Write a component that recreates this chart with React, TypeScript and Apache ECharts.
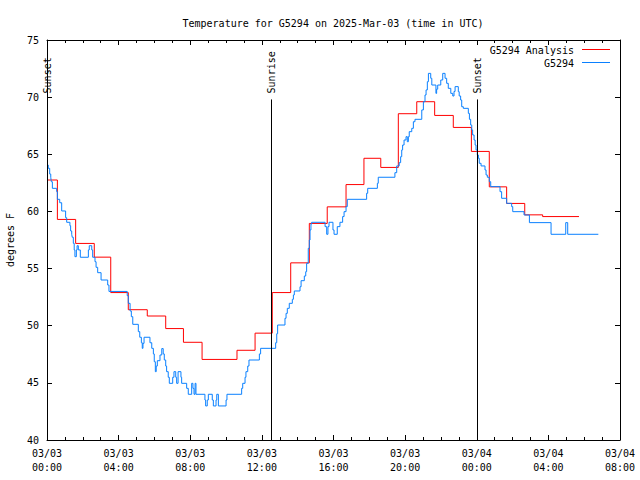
import React, { useEffect, useRef } from "react";
import * as echarts from "echarts";

// Hours since 03/03 00:00 UTC
const xTickLabels = [
  "03/03\n00:00", "03/03\n04:00", "03/03\n08:00", "03/03\n12:00", "03/03\n16:00",
  "03/03\n20:00", "03/04\n00:00", "03/04\n04:00", "03/04\n08:00",
];

const analysisHours = [0, 0.58, 1.6, 2.64, 3.56, 4.54, 5.6, 6.63, 7.62, 8.66, 10.61, 11.62, 12.58, 13.61, 14.65, 15.65, 16.7, 17.7, 18.64, 19.62, 20.65, 21.65, 22.69, 23.7, 24.7, 25.67, 26.68, 27.68, 29.71];
const analysisTemps = [62.75, 59.3, 57.2, 56.0, 52.9, 51.4, 50.85, 49.75, 48.55, 47.05, 47.85, 49.35, 52.9, 55.5, 58.95, 60.4, 62.35, 64.65, 63.85, 68.55, 69.6, 68.4, 67.35, 65.25, 62.15, 60.7, 59.7, 59.55, 59.55];

const obsHours = [0, 0.07, 0.15, 0.21, 0.24, 0.3, 0.54, 0.58, 0.71, 0.82,
  1.04, 1.1, 1.28, 1.32, 1.38, 1.41, 1.47, 1.52, 1.56, 1.64,
  1.68, 1.75, 1.86, 2.31, 2.36, 2.5, 2.55, 2.68, 2.74, 2.83,
  3.02, 3.39, 3.46, 4.48, 4.54, 4.64, 4.71, 4.79, 5.1, 5.18,
  5.27, 5.32, 5.36, 5.42, 5.75, 5.85, 5.94, 5.99, 6.05, 6.1,
  6.16, 6.31, 6.41, 6.49, 6.55, 6.63, 6.68, 6.77, 6.83, 7.02,
  7.09, 7.19, 7.24, 7.32, 7.48, 7.52, 7.8, 7.89, 8.08, 8.15,
  8.21, 8.27, 8.32, 8.82, 8.86, 8.95, 9.01, 9.23, 9.29, 9.44,
  9.48, 9.57, 10.0, 10.05, 10.87, 10.93, 11.06, 11.11, 11.21, 11.28,
  11.86, 11.93, 12.77, 12.83, 12.88, 13.29, 13.35, 13.42, 13.53, 13.7,
  13.76, 13.81, 14.13, 14.19, 14.37, 14.45, 14.5, 14.59, 14.65, 14.69,
  14.74, 14.78, 15.53, 15.62, 15.69, 15.75, 15.97, 16.03, 16.21, 16.36,
  16.51, 16.59, 16.7, 16.77, 17.85, 17.91, 18.45, 18.5, 19.43, 19.53,
  19.67, 19.75, 19.81, 19.86, 19.94, 20.05, 20.12, 20.18, 20.23, 20.37,
  20.46, 20.55, 20.93, 21.02, 21.11, 21.17, 21.24, 21.3, 21.43, 21.49,
  21.72, 21.76, 21.82, 21.99, 22.1, 22.23, 22.32, 22.41, 22.55, 22.66,
  22.73, 22.79, 22.97, 23.02, 23.1, 23.16, 23.25, 23.53, 23.59, 23.66,
  23.72, 23.77, 23.85, 23.91, 23.96, 24.03, 24.09, 24.14, 24.24, 24.46,
  24.52, 24.59, 24.7, 24.78, 25.3, 25.39, 25.67, 25.95, 26.01, 26.64,
  26.94, 28.15, 28.97, 29.08, 30.79];
const obsTemps = [64.06, 63.77, 63.27, 62.99, 62.6, 62.02, 61.73, 61.06, 60.76, 60.04,
  59.45, 59.05, 58.75, 58.29, 58.0, 57.74, 57.21, 56.63, 56.04, 56.63,
  57.0, 56.63, 55.99, 56.63, 57.0, 56.63, 55.99, 55.6, 55.11, 54.64,
  54.0, 53.56, 53.0, 52.63, 51.96, 51.29, 50.79, 50.12, 49.48, 48.99,
  48.51, 48.02, 48.46, 48.99, 48.51, 48.02, 47.53, 46.85, 45.98, 46.47,
  46.94, 47.44, 48.0, 47.53, 47.0, 46.47, 45.98, 45.49, 44.96, 45.49,
  45.98, 45.49, 44.96, 45.98, 45.49, 44.96, 44.52, 44.0, 44.96, 44.52,
  44.0, 44.96, 44.0, 43.5, 42.98, 43.5, 44.0, 43.5, 42.98, 43.5,
  44.0, 42.98, 43.5, 44.0, 44.52, 44.96, 45.49, 45.98, 46.47, 47.0,
  47.53, 48.02, 48.51, 49.3, 50.06, 50.65, 51.08, 51.52, 51.96, 52.31,
  52.69, 53.04, 53.41, 53.94, 54.35, 54.73, 55.46, 56.77, 57.5, 58.38,
  58.9, 59.05, 58.67, 58.0, 58.67, 59.05, 58.38, 58.0, 58.67, 59.05,
  59.55, 59.98, 60.42, 61.06, 61.59, 62.02, 62.46, 62.99, 63.39, 63.98,
  64.27, 64.79, 65.38, 65.81, 66.25, 66.54, 66.1, 66.54, 66.98, 67.27,
  67.85, 68.06, 68.88, 69.6, 70.19, 70.63, 71.35, 72.08, 71.65, 71.06,
  70.33, 70.7, 71.06, 71.5, 72.08, 71.65, 71.21, 70.77, 70.33, 70.1,
  70.5, 70.92, 70.48, 70.1, 69.75, 69.16, 69.02, 68.58, 68.06, 67.56,
  67.13, 66.69, 66.25, 65.81, 65.38, 64.94, 64.65, 64.21, 63.98, 63.63,
  63.19, 62.99, 62.6, 62.17, 61.73, 61.15, 60.71, 60.42, 59.98, 59.69,
  59.02, 58.0, 59.02, 58.0, 58.0];

const sunHours = [0, 12.52, 24.02];
const sunLabels = ["Sunset", "Sunrise", "Sunset"];

const FONT = '"DejaVu Sans Mono", monospace';
const RED = "#ff0000";
const BLUE = "#0a80ff";

export default function App() {
  const ref = useRef<HTMLDivElement>(null);
  useEffect(() => {
    if (!ref.current) return;
    const chart = echarts.init(ref.current, undefined, { renderer: "svg" });
    const axisCommon = {
      axisLine: { show: true, onZero: false, lineStyle: { color: "#000", width: 1 } },
      axisTick: { show: true, inside: true, length: 5, lineStyle: { color: "#000" } },
      splitLine: { show: false },
    };
    const option: any = {
      animation: false,
      backgroundColor: "#fff",
      title: {
        text: "Temperature for G5294 on 2025-Mar-03 (time in UTC)",
        left: 328,
        top: 13,
        textAlign: "center",
        textStyle: { fontFamily: FONT, fontSize: 10, fontWeight: "normal", color: "#000" },
      },
      grid: { left: 47, right: 20, top: 40, bottom: 40, containLabel: false, outerBoundsMode: "none" },
      xAxis: [
        {
          type: "value", min: 0, max: 32, interval: 4, position: "bottom",
          ...axisCommon,
          minorTick: { show: true, splitNumber: 4, length: 3, lineStyle: { color: "#000" } },
          axisLabel: {
            formatter: (v: number) => xTickLabels[Math.round(v / 4)],
            fontFamily: FONT, fontSize: 10, color: "#000", lineHeight: 14, margin: 6,
          },
        },
        {
          type: "value", min: 0, max: 32, interval: 4, position: "top",
          ...axisCommon,
          minorTick: { show: true, splitNumber: 4, length: 3, lineStyle: { color: "#000" } },
          axisLabel: { show: false },
        },
      ],
      yAxis: [
        {
          type: "value", min: 40, max: 75, interval: 5, position: "left",
          ...axisCommon,
          axisLabel: { fontFamily: FONT, fontSize: 10, color: "#000", margin: 8 },
          name: "degrees F",
          nameLocation: "middle",
          nameGap: 32,
          nameRotate: 90,
          nameTextStyle: { fontFamily: FONT, fontSize: 10, color: "#000" },
        },
        {
          type: "value", min: 40, max: 75, interval: 5, position: "right",
          ...axisCommon,
          axisLabel: { show: false },
        },
      ],
      graphic: [
        { type: "text", x: 574, y: 50, style: { text: "G5294 Analysis", textAlign: "right", textVerticalAlign: "middle", font: `10px ${FONT}`, fill: "#000" } },
        { type: "line", shape: { x1: 582, y1: 49.5, x2: 610, y2: 49.5 }, style: { stroke: RED, lineWidth: 1 } },
        { type: "text", x: 574, y: 63, style: { text: "G5294", textAlign: "right", textVerticalAlign: "middle", font: `10px ${FONT}`, fill: "#000" } },
        { type: "line", shape: { x1: 582, y1: 62.5, x2: 610, y2: 62.5 }, style: { stroke: BLUE, lineWidth: 1 } },
      ],
      series: [
        {
          name: "G5294 Analysis",
          type: "line",
          step: "end",
          showSymbol: false,
          symbol: "none",
          data: analysisHours.map((h, i) => [h, analysisTemps[i]]),
          lineStyle: { color: RED, width: 1 },
          itemStyle: { color: RED },
          z: 3,
        },
        {
          name: "G5294",
          type: "line",
          step: "end",
          showSymbol: false,
          symbol: "none",
          data: obsHours.map((h, i) => [h, obsTemps[i]]),
          lineStyle: { color: BLUE, width: 1 },
          itemStyle: { color: BLUE },
          z: 4,
        },
        {
          name: "sun",
          type: "custom",
          clip: false,
          data: sunHours.map((h) => [h]),
          renderItem: (params: any, api: any) => {
            const h = api.value(0);
            const p0 = api.coord([h, 40]);
            const p1 = api.coord([h, 69.8]);
            const xx = Math.round(p0[0]) + 0.5;
            return {
              type: "group",
              children: [
                { type: "line", shape: { x1: xx, y1: p0[1], x2: xx, y2: p1[1] }, style: { stroke: "#000", lineWidth: 1 } },
                {
                  type: "text", x: xx, y: p1[1] - 6, rotation: Math.PI / 2,
                  style: { text: sunLabels[params.dataIndex], textAlign: "left", textVerticalAlign: "middle", font: `10px ${FONT}`, fill: "#000" },
                },
              ],
            };
          },
          z: 5,
        },
      ],
    };
    chart.setOption(option);
    return () => chart.dispose();
  }, []);
  return <div ref={ref} style={{ width: 640, height: 480, position: "absolute", left: 0, top: 0 }} />;
}
